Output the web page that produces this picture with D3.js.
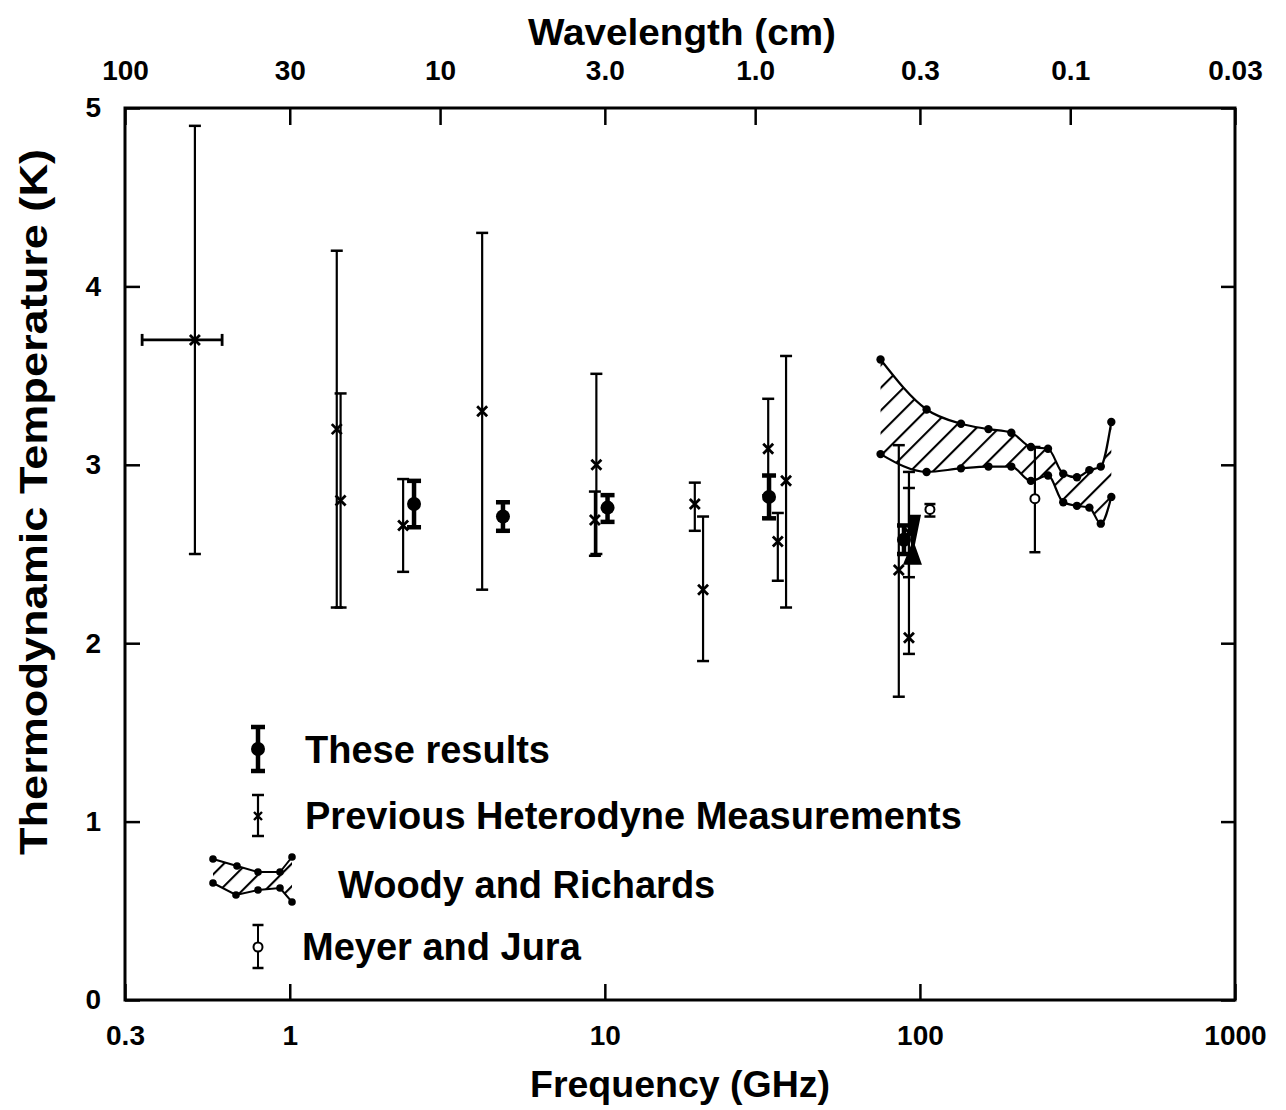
<!DOCTYPE html>
<html>
<head>
<meta charset="utf-8">
<script src="https://cdn.jsdelivr.net/npm/d3@7"></script>
<style>
  body { margin: 0; background: #fff; }
  svg { display: block; }
</style>
</head>
<body>
<div id="chart"></div>
<script>
/* DATA */
// previous heterodyne measurements (GHz, K)
const prevFreq = [0.5, 1.41, 1.45, 2.29, 4.08, 9.4, 9.3, 19.3, 20.5, 33, 35.4, 37.6, 85.7, 92.3, 92.3];
const prevTemp = [3.7, 3.2, 2.8, 2.66, 3.3, 3.0, 2.69, 2.78, 2.30, 3.09, 2.57, 2.91, 2.41, 2.03, 2.62];
const prevLow  = [2.5, 2.2, 2.2, 2.40, 2.3, 2.5, 2.49, 2.63, 1.90, 2.83, 2.35, 2.20, 1.70, 1.94, 2.37];
const prevHigh = [4.9, 4.2, 3.4, 2.92, 4.3, 3.51, 2.85, 2.90, 2.71, 3.37, 2.73, 3.61, 3.11, 2.96, 2.87];
// horizontal (frequency) error of the first point
const prevFreqErr = [0.34, 0.61];

// these results
const resFreq = [2.48, 4.75, 10.2, 33.2, 89];
const resTemp = [2.78, 2.71, 2.76, 2.82, 2.58];
const resLow  = [2.65, 2.63, 2.68, 2.70, 2.50];
const resHigh = [2.91, 2.79, 2.83, 2.94, 2.66];

// filled region at 90 GHz
const wedgeFreq = [92.3, 100.8, 96.4, 101.5, 88.3, 93.7];
const wedgeTemp = [2.72, 2.72, 2.55, 2.44, 2.44, 2.55];

// Woody and Richards band
const wrFreq  = [75, 105, 135, 165, 195, 225, 255, 285, 315, 345, 375, 405];
const wrUpper = [3.59, 3.31, 3.23, 3.20, 3.18, 3.10, 3.09, 2.95, 2.93, 2.97, 2.99, 3.24];
const wrLower = [3.06, 2.96, 2.98, 2.99, 2.99, 2.91, 2.94, 2.79, 2.77, 2.76, 2.67, 2.82];

// Meyer and Jura
const mjFreq = [107.6, 231.7];
const mjTemp = [2.75, 2.81];
const mjLow  = [2.71, 2.51];
const mjHigh = [2.78, 3.10];

// axis ticks
const freqTicks = [0.3, 1, 10, 100, 1000];
const freqLabels = ["0.3", "1", "10", "100", "1000"];
const waveTicks = [100, 30, 10, 3, 1, 0.3, 0.1, 0.03];
const waveLabels = ["100", "30", "10", "3.0", "1.0", "0.3", "0.1", "0.03"];
const tempTicks = [0, 1, 2, 3, 4, 5];

const legendLabels = ["These results", "Previous Heterodyne Measurements", "Woody and Richards", "Meyer and Jura"];

/* CONFIGURATION */
const W = 1286, H = 1110;
const plot = { left: 125, right: 1235, top: 108, bottom: 1000 };
const FONT = "'Liberation Sans', Arial, Helvetica, sans-serif";

const svg = d3.select("#chart").append("svg")
    .attr("width", W)
    .attr("height", H);

const x = d3.scaleLog().domain([0.3, 1000]).range([plot.left, plot.right]);
const xWave = d3.scaleLog().domain([100, 0.03]).range([plot.left, plot.right]);
const y = d3.scaleLinear().domain([0, 5]).range([plot.bottom, plot.top]);

// hatch pattern
const defs = svg.append("defs");
defs.append("pattern")
    .attr("id", "hatch")
    .attr("patternUnits", "userSpaceOnUse")
    .attr("width", 16)
    .attr("height", 16)
    .attr("patternTransform", "rotate(45)")
  .append("line")
    .attr("x1", 1).attr("y1", 0)
    .attr("x2", 1).attr("y2", 16)
    .attr("stroke", "#000")
    .attr("stroke-width", 2.2);

/* AXES */
function styleAxis(g) {
    g.select(".domain").remove();
    g.selectAll("line").attr("stroke", "#000").attr("stroke-width", 2.5);
    g.selectAll("text")
        .attr("font-family", FONT)
        .attr("font-weight", "bold")
        .attr("font-size", 28)
        .attr("fill", "#000");
}

svg.append("g")
    .attr("transform", `translate(0,${plot.bottom})`)
    .call(d3.axisBottom(x).tickValues(freqTicks)
        .tickFormat((d, i) => freqLabels[i])
        .tickSizeInner(-16).tickSizeOuter(0).tickPadding(25))
    .call(styleAxis);

svg.append("g")
    .attr("transform", `translate(0,${plot.top})`)
    .call(d3.axisTop(xWave).tickValues(waveTicks)
        .tickFormat((d, i) => waveLabels[i])
        .tickSizeInner(-17).tickSizeOuter(0).tickPadding(28))
    .call(styleAxis);

svg.append("g")
    .attr("transform", `translate(${plot.left},0)`)
    .call(d3.axisLeft(y).tickValues(tempTicks)
        .tickFormat(d3.format("d"))
        .tickSizeInner(-15).tickSizeOuter(0).tickPadding(24))
    .call(styleAxis);

svg.append("g")
    .attr("transform", `translate(${plot.right},0)`)
    .call(d3.axisRight(y).tickValues(tempTicks)
        .tickFormat("")
        .tickSizeInner(-14).tickSizeOuter(0))
    .call(styleAxis);

// frame
svg.append("rect")
    .attr("x", plot.left).attr("y", plot.top)
    .attr("width", plot.right - plot.left)
    .attr("height", plot.bottom - plot.top)
    .attr("fill", "none")
    .attr("stroke", "#000")
    .attr("stroke-width", 3);

// axis titles
svg.append("text")
    .attr("x", 682).attr("y", 45)
    .attr("text-anchor", "middle")
    .attr("font-family", FONT).attr("font-weight", "bold").attr("font-size", 37)
    .attr("textLength", 308).attr("lengthAdjust", "spacingAndGlyphs")
    .text("Wavelength (cm)");

svg.append("text")
    .attr("x", 680).attr("y", 1097)
    .attr("text-anchor", "middle")
    .attr("font-family", FONT).attr("font-weight", "bold").attr("font-size", 37)
    .attr("textLength", 300).attr("lengthAdjust", "spacingAndGlyphs")
    .text("Frequency (GHz)");

svg.append("text")
    .attr("transform", "translate(47,502) rotate(-90)")
    .attr("text-anchor", "middle")
    .attr("font-family", FONT).attr("font-weight", "bold").attr("font-size", 38)
    .attr("textLength", 706).attr("lengthAdjust", "spacingAndGlyphs")
    .text("Thermodynamic Temperature (K)");

/* WOODY AND RICHARDS BAND */
const wrData = wrFreq.map((f, i) => ({ f, hi: wrUpper[i], lo: wrLower[i] }));
const band = svg.append("g");

band.append("path")
    .datum(wrData)
    .attr("fill", "url(#hatch)")
    .attr("d", d3.area()
        .x(d => x(d.f)).y0(d => y(d.lo)).y1(d => y(d.hi))
        .curve(d3.curveMonotoneX));

["hi", "lo"].forEach(key => {
    band.append("path")
        .datum(wrData)
        .attr("fill", "none")
        .attr("stroke", "#000")
        .attr("stroke-width", 2.2)
        .attr("d", d3.line().x(d => x(d.f)).y(d => y(d[key])).curve(d3.curveMonotoneX));
    band.selectAll(null)
        .data(wrData)
        .enter().append("circle")
        .attr("cx", d => x(d.f))
        .attr("cy", d => y(d[key]))
        .attr("r", 4.2)
        .attr("fill", "#000");
});

/* ERROR BAR HELPER */
function errorBar(g, xp, yLo, yHi, cap, width) {
    g.append("line")
        .attr("x1", xp).attr("x2", xp).attr("y1", yLo).attr("y2", yHi)
        .attr("stroke", "#000").attr("stroke-width", width);
    [yLo, yHi].forEach(yy => {
        g.append("line")
            .attr("x1", xp - cap).attr("x2", xp + cap).attr("y1", yy).attr("y2", yy)
            .attr("stroke", "#000").attr("stroke-width", Math.max(width, 2.5));
    });
}

/* PREVIOUS HETERODYNE */
const prev = svg.append("g");
prevFreq.forEach((f, i) => {
    const xp = x(f), yp = y(prevTemp[i]);
    errorBar(prev, xp, y(prevLow[i]), y(prevHigh[i]), 6, 2.2);
    prev.append("path")
        .attr("d", `M${xp - 5},${yp - 5}L${xp + 5},${yp + 5}M${xp - 5},${yp + 5}L${xp + 5},${yp - 5}`)
        .attr("stroke", "#000").attr("stroke-width", 2.8);
});
// horizontal error of the first point
{
    const yp = y(prevTemp[0]);
    const x0 = x(prevFreqErr[0]), x1 = x(prevFreqErr[1]);
    prev.append("line")
        .attr("x1", x0).attr("x2", x1).attr("y1", yp).attr("y2", yp)
        .attr("stroke", "#000").attr("stroke-width", 2.8);
    [x0, x1].forEach(xx => prev.append("line")
        .attr("x1", xx).attr("x2", xx).attr("y1", yp - 6).attr("y2", yp + 6)
        .attr("stroke", "#000").attr("stroke-width", 2.8));
}

/* FILLED WEDGE */
svg.append("polygon")
    .attr("points", wedgeFreq.map((f, i) => [x(f), y(wedgeTemp[i])].join(",")).join(" "))
    .attr("fill", "#000");

/* THESE RESULTS */
const res = svg.append("g");
resFreq.forEach((f, i) => {
    const xp = x(f);
    errorBar(res, xp, y(resLow[i]), y(resHigh[i]), 7, 4.5);
    res.append("circle")
        .attr("cx", xp).attr("cy", y(resTemp[i]))
        .attr("r", 7).attr("fill", "#000");
});

/* MEYER AND JURA */
const mj = svg.append("g");
mjFreq.forEach((f, i) => {
    const xp = x(f);
    errorBar(mj, xp, y(mjLow[i]), y(mjHigh[i]), 5.5, 2.2);
    mj.append("circle")
        .attr("cx", xp).attr("cy", y(mjTemp[i]))
        .attr("r", 4.5).attr("fill", "#fff")
        .attr("stroke", "#000").attr("stroke-width", 2);
});

/* LEGEND */
const legend = svg.append("g");
const lx = 258;
const legendBase = [763, 829, 898, 960];
const legendTextX = [305, 305, 338, 302];

legendLabels.forEach((label, i) => {
    legend.append("text")
        .attr("x", legendTextX[i]).attr("y", legendBase[i])
        .attr("font-family", FONT).attr("font-weight", "bold").attr("font-size", 38)
        .text(label);
});

// these results symbol
errorBar(legend, lx, 771, 727, 7, 4.5);
legend.append("circle").attr("cx", lx).attr("cy", 749).attr("r", 7).attr("fill", "#000");

// previous heterodyne symbol
errorBar(legend, lx, 836, 795, 6, 2.2);
legend.append("path")
    .attr("d", `M${lx - 4},${812}L${lx + 4},${820}M${lx - 4},${820}L${lx + 4},${812}`)
    .attr("stroke", "#000").attr("stroke-width", 2.4);

// woody and richards sample
const sampleUp = [[213, 859], [237, 866], [258, 872], [280, 872], [292, 857]];
const sampleLo = [[213, 883], [236, 895], [258, 890], [280, 888], [292, 902]];
legend.append("path")
    .attr("d", "M" + sampleUp.map(p => p.join(",")).join("L") + "L" +
        sampleLo.slice().reverse().map(p => p.join(",")).join("L") + "Z")
    .attr("fill", "url(#hatch)");
[sampleUp, sampleLo].forEach(pts => {
    legend.append("path")
        .attr("d", "M" + pts.map(p => p.join(",")).join("L"))
        .attr("fill", "none").attr("stroke", "#000").attr("stroke-width", 2);
    pts.forEach(p => legend.append("circle")
        .attr("cx", p[0]).attr("cy", p[1]).attr("r", 3.8).attr("fill", "#000"));
});

// meyer and jura symbol
errorBar(legend, lx, 968, 925, 5.5, 2);
legend.append("circle").attr("cx", lx).attr("cy", 947).attr("r", 4.5)
    .attr("fill", "#fff").attr("stroke", "#000").attr("stroke-width", 2);
</script>
</body>
</html>
